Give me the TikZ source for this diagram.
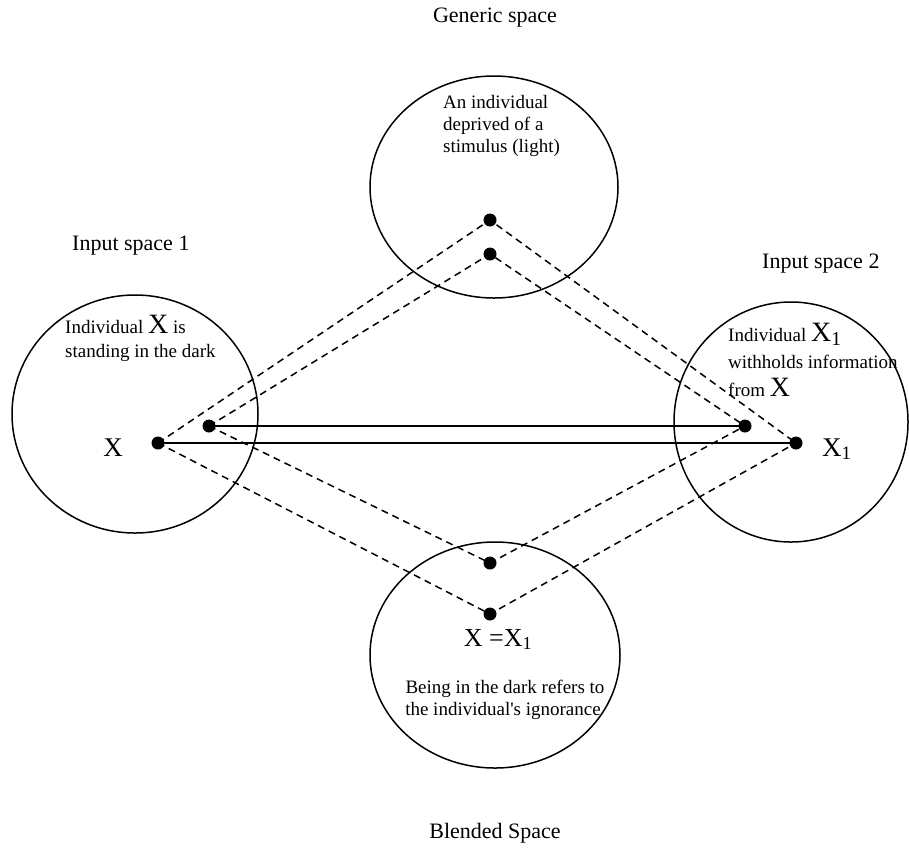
\documentclass[tikz,border=0pt]{standalone}
\usepackage{fontspec}
\setmainfont{Liberation Serif}
\usetikzlibrary{shapes.geometric}
\begin{document}
\begin{tikzpicture}[x=1pt,y=-1pt,
  spacebox/.style={draw, ellipse, line width=1.5pt, inner sep=0pt},
  dotnode/.style={circle, fill=black, inner sep=0pt, minimum size=13pt},
  dashline/.style={dashed, dash pattern=on 7pt off 5pt, line width=1.5pt},
  solidline/.style={line width=1.8pt},
  inner/.style={font=\fontsize{19}{25}\selectfont, inner sep=0pt},
  label/.style={font=\fontsize{22}{26}\selectfont, inner sep=0pt},
  bigx/.style={font=\fontsize{27}{27}\selectfont, inner sep=0pt}
]
\useasboundingbox (0,0) rectangle (909,847);

% spaces
\node[spacebox, minimum width=248pt, minimum height=222pt] (gen) at (494,187) {};
\node[spacebox, minimum width=246pt, minimum height=238pt] (in1) at (135,414) {};
\node[spacebox, minimum width=234pt, minimum height=240pt] (in2) at (791,422) {};
\node[spacebox, minimum width=250pt, minimum height=226pt] (bl) at (495,655) {};

% labels
\node[label, anchor=base] (lgen) at (495,22) {Generic space};
\node[label, anchor=base west] (lin1) at (72,250) {Input space 1};
\node[label, anchor=base west] (lin2) at (762,268) {Input space 2};
\node[label, anchor=base] (lbl) at (495,838) {Blended Space};

% dots
\node[dotnode] (g1) at (490,220) {};
\node[dotnode] (g2) at (490,254) {};
\node[dotnode] (a1) at (158,443) {};
\node[dotnode] (a2) at (209,426) {};
\node[dotnode] (b2) at (745,426) {};
\node[dotnode] (b1) at (796,443) {};
\node[dotnode] (c1) at (490,563) {};
\node[dotnode] (c2) at (490,614) {};

% connectors
\draw[solidline] (a2.center) -- (b2.center);
\draw[solidline] (a1.center) -- (b1.center);
\draw[dashline] (a1.center) -- (g1.center) -- (b1.center);
\draw[dashline] (a2.center) -- (g2.center) -- (b2.center);
\draw[dashline] (a2.center) -- (c1.center) -- (b2.center);
\draw[dashline] (a1.center) -- (c2.center) -- (b1.center);

% point labels
\node[bigx, anchor=base] (xa) at (113,456) {X};
\node[bigx, anchor=base west] (xb) at (822,456) {X\textsubscript{1}};
\node[font=\fontsize{26}{26}\selectfont, inner sep=0pt, anchor=base] (xeq) at (498,646) {X =X\textsubscript{1}};

% inner texts
\node[inner, anchor=base west] (t1a) at (65,333) {Individual {\fontsize{28}{28}\selectfont X} is};
\node[inner, anchor=base west] (t1b) at (65,357) {standing in the dark};

\node[inner, anchor=base west] (t2a) at (728,341) {Individual {\fontsize{28}{28}\selectfont X\textsubscript{1}}};
\node[inner, anchor=base west] (t2b) at (728,368) {withholds information};
\node[inner, anchor=base west] (t2c) at (728,396) {from {\fontsize{28}{28}\selectfont X}};

\node[inner, anchor=base west] (tg1) at (443,108) {An individual};
\node[inner, anchor=base west] (tg2) at (443,130) {deprived of a};
\node[inner, anchor=base west] (tg3) at (443,152) {stimulus (light)};

\node[inner, anchor=base] (tb1) at (505,693) {Being in the dark refers to};
\node[inner, anchor=base] (tb2) at (503,715) {the individual\textquotesingle s ignorance};
\end{tikzpicture}
\end{document}
